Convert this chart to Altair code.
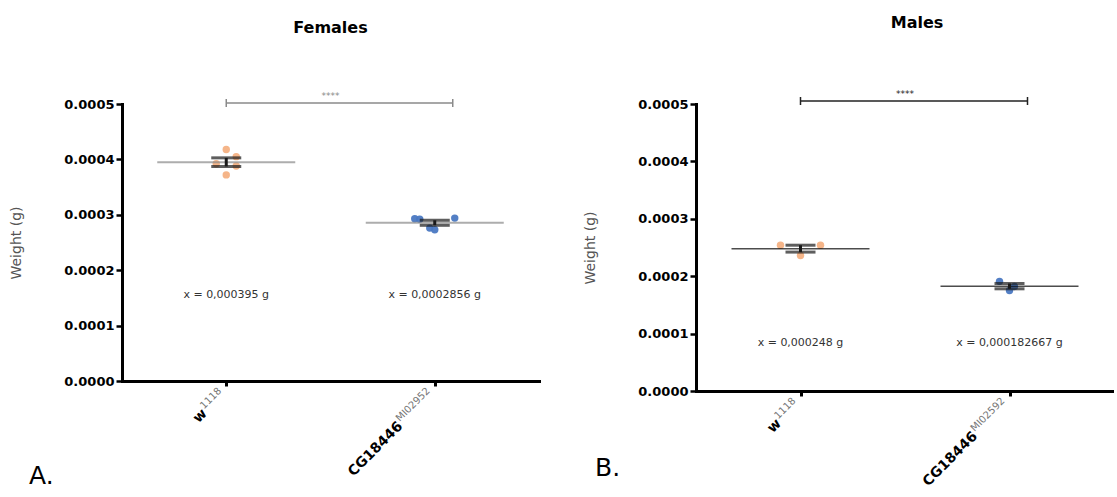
import altair as alt
import pandas as pd

GROUPS = ["w1118", "CG18446"]

# Individual fly body weights (g)
female_w1118 = [0.000418, 0.000405, 0.000372, 0.000392, 0.000388]
female_cg = [0.000293, 0.000292, 0.000294, 0.000276, 0.000273]
male_w1118 = [0.000254, 0.000254, 0.000236]
male_cg = [0.000191, 0.000175, 0.000182]

# Horizontal spread of overlapping dots (scatter-dot layout)
female_w1118_spread = [0, 1, 0, -1, 1]
female_cg_spread = [-2, -1.5, 2, -0.5, 0]
male_w1118_spread = [-2, 2, 0]
male_cg_spread = [-1, 0, 0.5]

mean_labels_f = ["x = 0,000395 g", "x = 0,0002856 g"]
mean_labels_m = ["x = 0,000248 g", "x = 0,000182667 g"]

main_labels = ["w", "CG18446"]
superscripts_f = ["1118", "MI02952"]
superscripts_m = ["1118", "MI02592"]

y_ticks = [0, 0.0001, 0.0002, 0.0003, 0.0004, 0.0005]

FONT = "DejaVu Sans"
ORANGE = "#F4B183"
BLUE = "#4A78C2"
SUP_SIZE = 10


def text_width(s, size):
    widths = {"M": 0.863, "I": 0.295}
    return sum(widths.get(c, 0.636) for c in s) * size


def panel(title, values, spreads, mean_labels, sups, w, h, mean_color,
          mean_width, bar_color, bar_y, text_y, letter, letter_x, letter_y,
          title_offset, title_dx):
    rows = []
    for g, vals, sp in zip(GROUPS, values, spreads):
        for v, s in zip(vals, sp):
            rows.append({"group": g, "weight": v, "spread": s})
    df = pd.DataFrame(rows)
    lab = pd.DataFrame({"group": GROUPS, "main": main_labels, "sup": sups,
                        "mean_label": mean_labels})

    xscale = alt.Scale(type="point", domain=GROUPS, padding=0.5)
    xaxis = alt.Axis(labels=False, ticks=True, tickSize=5, tickWidth=3,
                     tickColor="black", domainColor="black", domainWidth=3,
                     domainCap="square", grid=False, title=None)
    yscale = alt.Scale(domain=[0, 0.0005], nice=False, zero=True)
    yaxis = alt.Axis(values=y_ticks, format=".4f", labelFont=FONT,
                     labelFontWeight="bold", labelFontSize=13,
                     labelColor="black", labelPadding=2, tickSize=6,
                     tickWidth=2.5, tickColor="black", domainColor="black",
                     domainWidth=3, domainCap="square", grid=False,
                     titleFont=FONT, titleFontWeight="normal",
                     titleFontSize=14, titleColor="#555555",
                     titlePadding=40)

    def X(field="group:N"):
        return alt.X(field, scale=xscale, axis=xaxis, title=None)

    def Y(field):
        return alt.Y(field, scale=yscale, axis=yaxis, title="Weight (g)")

    base = alt.Chart(df)
    dots = base.mark_circle(size=55, opacity=0.95).encode(
        x=X(), y=Y("weight:Q"),
        xOffset=alt.XOffset("spread:Q",
                            scale=alt.Scale(domain=[-2, 2], range=[-20, 20])),
        color=alt.Color("group:N", scale=alt.Scale(domain=GROUPS,
                                                   range=[ORANGE, BLUE]),
                        legend=None),
    )
    stats = base.transform_aggregate(
        mean="mean(weight)", se="stderr(weight)", groupby=["group"]
    ).transform_calculate(lo="datum.mean - datum.se",
                          hi="datum.mean + datum.se")
    mean_line = stats.mark_tick(size=138, thickness=mean_width,
                                color=mean_color).encode(x=X(), y=Y("mean:Q"))
    err = stats.mark_rule(color="#1a1a1a", strokeWidth=3).encode(
        x=X(), y=Y("lo:Q"), y2="hi:Q")
    cap_lo = stats.mark_tick(size=30, thickness=3, color="#1a1a1a").encode(
        x=X(), y=Y("lo:Q"))
    cap_hi = stats.mark_tick(size=30, thickness=3, color="#1a1a1a").encode(
        x=X(), y=Y("hi:Q"))

    labels = alt.Chart(lab)
    mean_text = labels.mark_text(font=FONT, fontSize=11, color="#333333",
                                 baseline="middle").encode(
        x=X(), y=alt.value(text_y), text="mean_label:N")

    pair = alt.Chart(pd.DataFrame({"a": [GROUPS[0]], "b": [GROUPS[1]]}))
    sig_bar = pair.mark_rule(color=bar_color, strokeWidth=1.5,
                             x2Offset=18).encode(
        x=X("a:N"), x2="b:N", y=alt.value(bar_y))
    sig_cap_a = pair.mark_rule(color=bar_color, strokeWidth=1.5).encode(
        x=X("a:N"), y=alt.value(bar_y - 4), y2=alt.value(bar_y + 4))
    sig_cap_b = pair.mark_rule(color=bar_color, strokeWidth=1.5,
                               xOffset=18).encode(
        x=X("b:N"), y=alt.value(bar_y - 4), y2=alt.value(bar_y + 4))
    stars = pair.mark_text(font=FONT, fontSize=9, color=bar_color,
                           baseline="bottom").encode(
        x=alt.value(w / 2), y=alt.value(bar_y - 2), text=alt.value("****"))

    layers = [dots, mean_line, err, cap_lo, cap_hi, mean_text, sig_bar,
              sig_cap_a, sig_cap_b, stars]

    # Category labels: bold name followed by a grey superscript allele
    for g, sup in zip(GROUPS, sups):
        shift = -(text_width(sup, SUP_SIZE) + 5)
        one = labels.transform_filter(alt.datum.group == g)
        layers.append(one.mark_text(
            font=FONT, fontSize=14, fontWeight="bold", color="black",
            align="right", baseline="middle", angle=315, dx=shift).encode(
            x=X(), y=alt.value(h + 9), text="main:N"))
        layers.append(one.mark_text(
            font=FONT, fontSize=SUP_SIZE, color="#777777", align="left",
            baseline="middle", angle=315, dx=shift + 1, dy=-5).encode(
            x=X(), y=alt.value(h + 9), text="sup:N"))

    tag = alt.Chart(pd.DataFrame({"t": [letter]})).mark_text(
        font=FONT, fontSize=25, color="black", align="left",
        baseline="alphabetic").encode(
        x=alt.value(letter_x), y=alt.value(letter_y), text="t:N")
    layers.append(tag)

    return alt.layer(*layers).properties(
        width=w, height=h,
        title=alt.TitleParams(title, font=FONT, fontSize=16,
                              fontWeight="bold", color="black",
                              frame="group", offset=title_offset,
                              baseline="alphabetic", dx=title_dx),
    )


females = panel("Females", [female_w1118, female_cg],
                [female_w1118_spread, female_cg_spread], mean_labels_f,
                superscripts_f, 417, 277, "#8a8a8a", 2, "#8a8a8a", -1, 191,
                "A.", -93, 380, 43, 0)
males = panel("Males", [male_w1118, male_cg],
              [male_w1118_spread, male_cg_spread], mean_labels_m,
              superscripts_m, 418, 287, "black", 1.5, "#222222", -3, 239,
              "B.", -101, 372, 46, 12)

chart = alt.hconcat(females, males, spacing=157).properties(
    bounds="flush",
    padding={"left": 9, "top": 15, "right": 0, "bottom": 0},
).configure_view(stroke=None)

chart.save("out.html", embed_options={"renderer": "svg", "actions": False})
